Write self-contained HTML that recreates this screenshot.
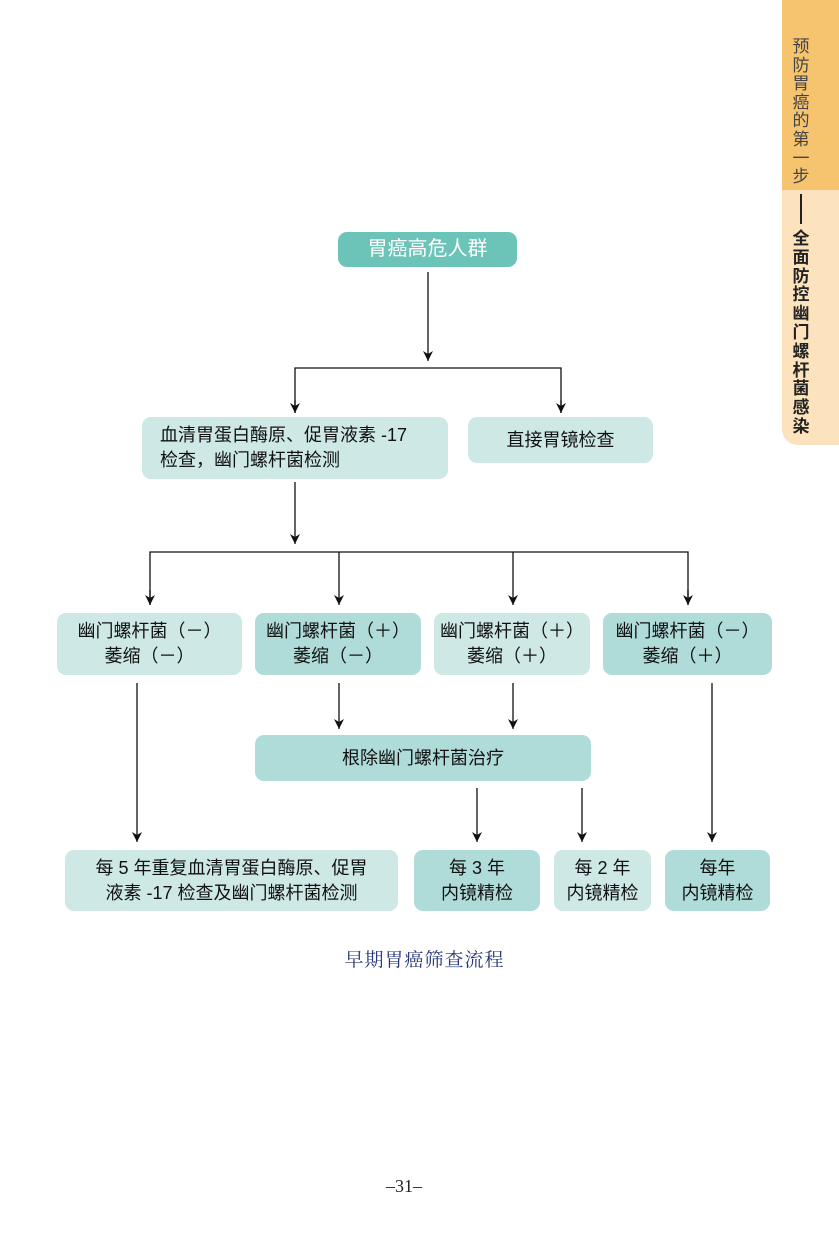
<!DOCTYPE html>
<html><head><meta charset="utf-8"><style>
body{margin:0;width:839px;height:1240px;background:#fff;position:relative;overflow:hidden;font-family:"Liberation Sans","Noto Sans CJK SC",sans-serif;}
.b{position:absolute;border-radius:9px;display:flex;align-items:center;justify-content:center;text-align:center;font-size:18px;line-height:25px;color:#111;box-sizing:border-box;}
.l{background:#cde8e5;}
.d{background:#afdcd8;}
svg{position:absolute;left:0;top:0;}
.tab1{position:absolute;left:782px;top:0;width:57px;height:190px;background:#f6c36f;}
.tab2{position:absolute;left:782px;top:190px;width:57px;height:255px;background:#fce3bd;border-bottom-left-radius:16px;}
.vt{position:absolute;left:790px;width:22px;text-align:center;color:#222;font-family:"Noto Sans CJK SC",sans-serif;}
</style></head><body>
<div class="tab1"></div><div class="tab2"></div>
<div class="vt" style="top:36px;font-size:17px;line-height:18.6px;color:#444">预<br>防<br>胃<br>癌<br>的<br>第<br>一<br>步</div>
<div style="position:absolute;left:800px;top:194px;width:2px;height:30px;background:#222"></div>
<div class="vt" style="top:228px;font-size:17px;line-height:18.8px;font-weight:bold">全<br>面<br>防<br>控<br>幽<br>门<br>螺<br>杆<br>菌<br>感<br>染</div>

<svg width="839" height="1240">
<defs><marker id="a" markerWidth="12" markerHeight="12" refX="10" refY="5" orient="auto" markerUnits="userSpaceOnUse"><path d="M0,0 L10,5 L0,10 L3,5 Z" fill="#111"/></marker></defs>
<g stroke="#111" stroke-width="1.3" fill="none">
<line x1="428" y1="272" x2="428" y2="361" marker-end="url(#a)"/>
<polyline points="295,413 295,368 561,368 561,413"/>
<line x1="295" y1="400" x2="295" y2="413" marker-end="url(#a)"/>
<line x1="561" y1="400" x2="561" y2="413" marker-end="url(#a)"/>
<line x1="295" y1="482" x2="295" y2="544" marker-end="url(#a)"/>
<polyline points="150,605 150,552 688,552 688,605"/>
<line x1="150" y1="590" x2="150" y2="605" marker-end="url(#a)"/>
<line x1="339" y1="552" x2="339" y2="605" marker-end="url(#a)"/>
<line x1="513" y1="552" x2="513" y2="605" marker-end="url(#a)"/>
<line x1="688" y1="590" x2="688" y2="605" marker-end="url(#a)"/>
<line x1="137" y1="683" x2="137" y2="842" marker-end="url(#a)"/>
<line x1="339" y1="683" x2="339" y2="729" marker-end="url(#a)"/>
<line x1="513" y1="683" x2="513" y2="729" marker-end="url(#a)"/>
<line x1="712" y1="683" x2="712" y2="842" marker-end="url(#a)"/>
<line x1="477" y1="788" x2="477" y2="842" marker-end="url(#a)"/>
<line x1="582" y1="788" x2="582" y2="842" marker-end="url(#a)"/>
</g></svg>

<div class="b" style="left:338px;top:232px;width:179px;height:35px;background:#6cc3b8;color:#fff;font-size:20px;">胃癌高危人群</div>
<div class="b l" style="left:142px;top:417px;width:306px;height:62px;text-align:left;justify-content:flex-start;padding-left:18px;">血清胃蛋白酶原、促胃液素 -17<br>检查，幽门螺杆菌检测</div>
<div class="b l" style="left:468px;top:417px;width:185px;height:46px;">直接胃镜检查</div>

<div class="b l" style="left:57px;top:613px;width:185px;height:62px;">幽门螺杆菌（－）<br>萎缩（－）</div>
<div class="b d" style="left:255px;top:613px;width:166px;height:62px;">幽门螺杆菌（＋）<br>萎缩（－）</div>
<div class="b l" style="left:434px;top:613px;width:156px;height:62px;">幽门螺杆菌（＋）<br>萎缩（＋）</div>
<div class="b d" style="left:603px;top:613px;width:169px;height:62px;">幽门螺杆菌（－）<br>萎缩（＋）</div>

<div class="b d" style="left:255px;top:735px;width:336px;height:46px;">根除幽门螺杆菌治疗</div>

<div class="b l" style="left:65px;top:850px;width:333px;height:61px;">每 5 年重复血清胃蛋白酶原、促胃<br>液素 -17 检查及幽门螺杆菌检测</div>
<div class="b d" style="left:414px;top:850px;width:126px;height:61px;">每 3 年<br>内镜精检</div>
<div class="b l" style="left:554px;top:850px;width:97px;height:61px;">每 2 年<br>内镜精检</div>
<div class="b d" style="left:665px;top:850px;width:105px;height:61px;">每年<br>内镜精检</div>

<div style="position:absolute;left:0;width:839px;top:945px;text-align:center;font-family:'Liberation Serif','Noto Serif CJK SC',serif;font-size:19px;color:#26357a;letter-spacing:1px;padding-left:10px;box-sizing:border-box;">早期胃癌筛查流程</div>
<div style="position:absolute;left:386px;top:1176px;font-family:'Liberation Serif',serif;font-size:18px;color:#222;">–31–</div>
</body></html>
